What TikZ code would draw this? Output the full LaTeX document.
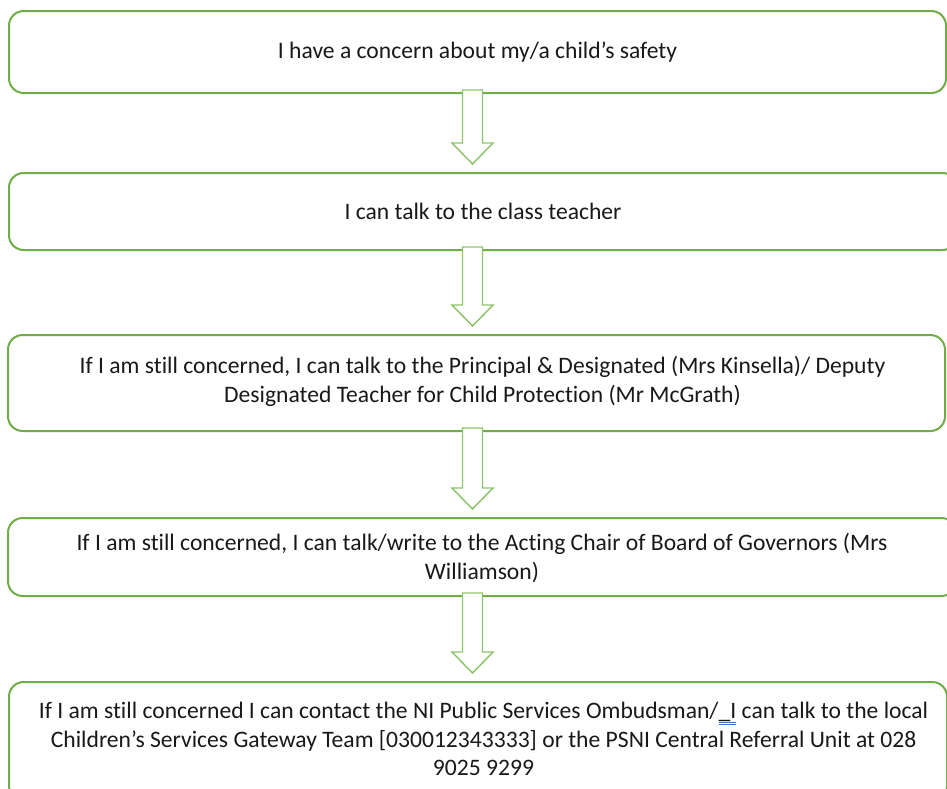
\documentclass[tikz,border=0pt]{standalone}
\usepackage{fontspec}
\setmainfont{Carlito}[Ligatures=NoCommon]
\usetikzlibrary{calc}
\definecolor{boxgreen}{HTML}{70AD47}
\definecolor{arrgreen}{HTML}{8CC46A}
\definecolor{ulblue}{HTML}{4472C4}
\newcommand\gramul[1]{\setbox0=\hbox{#1}\rlap{\color{ulblue}\rule[-3.4pt]{\wd0}{0.5pt}}\rlap{\color{ulblue}\rule[-4.9pt]{\wd0}{0.5pt}}\box0\relax}
\newcommand\flowarrow[2]{%
  \draw[blockarrow] ($(#1.south -| axis)+(-10,-4)$) -- ($(#1.south -| axis)+(10,-4)$)
    -- ($(#2.north -| axis)+(10,-29)$) -- ($(#2.north -| axis)+(20.5,-29)$)
    -- ($(#2.north -| axis)+(0,-8)$) -- ($(#2.north -| axis)+(-20.5,-29)$)
    -- ($(#2.north -| axis)+(-10,-29)$) -- cycle;}
\begin{document}
\begin{tikzpicture}[x=0.75pt,y=-0.75pt,
  flowbox/.style={draw=boxgreen, line width=1.5pt, rounded corners=11pt, fill=white, inner sep=0pt},
  flowtext/.style={align=center, text=black!90, font=\fontsize{17.7pt}{21.6pt}\selectfont, inner sep=0pt},
  blockarrow/.style={draw=arrgreen, line width=1.1pt, fill=white, line join=miter}]
\useasboundingbox (0,0) rectangle (947,789);
\coordinate (axis) at (472.5,0);
% boxes
\node[flowbox, minimum width=702.75pt, minimum height=61.5pt] (b1) at (477.5,52) {};
\node[flowbox, minimum width=711pt, minimum height=57.75pt] (b2) at (483,211.5) {};
\node[flowbox, minimum width=702.75pt, minimum height=72pt] (b3) at (476.5,383) {};
\node[flowbox, minimum width=711pt, minimum height=58.5pt] (b4) at (482,557) {};
\node[flowbox, minimum width=703.5pt, minimum height=88.5pt] (b5) at (478,741) {};
% arrows
\flowarrow{b1}{b2}
\flowarrow{b2}{b3}
\flowarrow{b3}{b4}
\flowarrow{b4}{b5}
% texts
\node[flowtext] (t1) at (477.5,52) {I have a concern about my/a child’s safety};
\node[flowtext] (t2) at (483,211) {I can talk to the class teacher};
\node[flowtext] (t3) at (482.5,381.5) {If I am still concerned, I can talk to the Principal \& Designated (Mrs Kinsella)/ Deputy\\Designated Teacher for Child Protection (Mr McGrath)};
\node[flowtext] (t4) at (482,558) {If I am still concerned, I can talk/write to the Acting Chair of Board of Governors (Mrs\\Williamson)};
\node[flowtext] (t5) at (483.5,739) {If I am still concerned I can contact the NI Public Services Ombudsman/\gramul{\_I} can talk to the local\\Children’s Services Gateway Team [030012343333] or the PSNI Central Referral Unit at 028\\9025 9299};
\end{tikzpicture}
\end{document}
